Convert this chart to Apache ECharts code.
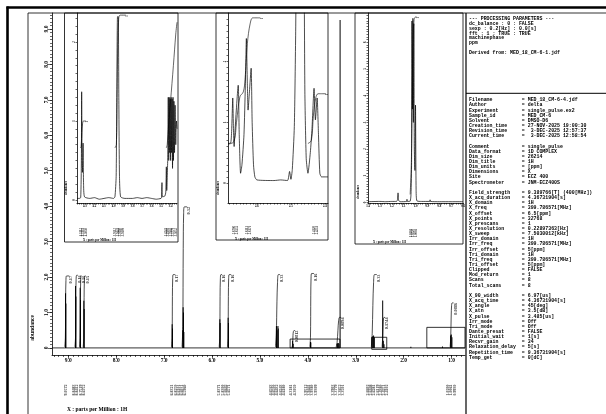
<!DOCTYPE html>
<html><head><meta charset="utf-8">
<script src="https://cdn.jsdelivr.net/npm/echarts@6/dist/echarts.min.js"></script>
<style>html,body{margin:0;padding:0;background:#fff}#c{width:606px;height:414px}</style>
</head><body><div id="c"></div>
<script>
// ---------------- DATA ----------------
const mainXLabels = [9,8,7,6,5,4,3,2,1];
const mainYLabels = [0,1,2,3,4,5,6,7,8,9];
const mainBaseline = [[9.34,0],[0.72,0]];
const mainPeaks = [
 [9.057,1.54],[9.050,1.25],
 [8.848,1.75],[8.841,1.45],[8.752,1.70],[8.745,1.35],[8.675,1.33],[8.668,1.10],
 [6.832,0.67],[6.825,0.55],
 [6.610,0.50],[6.603,1.15],[6.596,1.00],[6.588,0.45],
 [5.837,0.81],[5.830,0.70],[5.664,0.85],[5.657,0.70],
 [4.656,0.62],[4.650,0.60],[4.643,0.50],[4.624,0.62],[4.618,0.55],
 [4.318,0.20],[4.305,0.12],
 [3.944,0.17],[3.938,0.15],
 [3.390,0.12],[3.378,0.13],[3.365,0.14],[3.350,0.12],
 [3.327,9.25],
 [2.660,0.30],[2.645,0.33],[2.628,0.35],[2.612,0.30],
 [2.438,1.34],[2.425,0.20],[2.410,0.10],
 [1.850,0.03],[1.190,0.04],
 [1.020,0.35],[1.006,0.38],[0.993,0.30]
];
const mainIntegralCurves = [
 [[9.074,0.03],[9.061,0.3],[9.055,1.42],[9.049,1.9],[9.037,2.03],[8.98,2.03]],
 [[8.862,0.03],[8.849,0.3],[8.843,1.44],[8.837,1.93],[8.825,2.05],[8.80,2.05]],
 [[8.766,0.03],[8.753,0.3],[8.747,1.43],[8.741,1.92],[8.729,2.04],[8.715,2.04]],
 [[8.689,0.03],[8.676,0.3],[8.670,1.42],[8.664,1.9],[8.652,2.03],[8.635,2.03]],
 [[6.846,0.03],[6.833,0.3],[6.827,1.45],[6.821,1.95],[6.809,2.07],[6.77,2.07]],
 [[6.625,0.03],[6.610,0.6],[6.601,2.8],[6.593,3.75],[6.578,3.98],[6.52,3.98]],
 [[5.851,0.03],[5.838,0.3],[5.832,1.45],[5.826,1.95],[5.814,2.07],[5.79,2.07]],
 [[5.678,0.03],[5.665,0.3],[5.659,1.45],[5.653,1.95],[5.641,2.07],[5.60,2.07]],
 [[4.675,0.03],[4.658,0.4],[4.645,1.3],[4.633,1.85],[4.615,2.07],[4.58,2.07]],
 [[4.330,0.02],[4.318,0.1],[4.310,0.35],[4.302,0.46],[4.290,0.49],[4.27,0.49]],
 [[3.958,0.03],[3.945,0.3],[3.939,1.47],[3.933,1.97],[3.921,2.1],[3.87,2.1]],
 [[3.410,0.02],[3.390,0.15],[3.372,0.5],[3.357,0.78],[3.340,0.86],[3.31,0.86]],
 [[2.675,0.03],[2.657,0.4],[2.643,1.2],[2.628,1.85],[2.608,2.07],[2.56,2.07]],
 [[2.450,0.03],[2.438,0.3],[2.430,0.65],[2.422,0.82],[2.410,0.86],[2.39,0.86]],
 [[1.030,0.03],[1.018,0.3],[1.008,0.9],[1.000,1.2],[0.988,1.27],[0.96,1.27]]
];
const mainIntegralValues = ['0.17','0.16','0.16','0.15','0.17','0.32','0.16','0.16','0.33','0.0812','0.16','0.0894','0.33','0.1744','0.0886'];
const mainZoomBoxes = [[4.37,0,3.33,0.25],[2.666,-0.04,2.353,0.30],[1.517,0,0.72,0.58]];
const mainPeakLabelGroups = [
 [9.0572],
 [8.8483,8.8412,8.7519,8.6752],
 [6.8321,6.8250,6.6101,6.6031,6.5960],
 [5.8371,5.8300,5.6642,5.6571],
 [4.6563,4.6500,4.6432,4.6243,4.6180],
 [4.3181,4.3050],
 [3.9512,3.9441,3.9380,3.9309],
 [3.3903,3.3779,3.3652,3.3501],
 [2.6602,2.6448,2.6281,2.6119,2.4380,2.4251,2.4102],
 [1.0200,1.0061,0.9930]
];

const inset1XLabels = [4.3,4.2,4.1,4.0,3.9,3.8,3.7,3.6,3.5,3.4];
const inset1YLabels = [0,1,2];
const inset1Spectrum = [
 [4.384,0.02],[4.36,0.02],[4.345,0.03],[4.338,0.5],[4.335,1.37],[4.331,0.5],[4.327,0.35],[4.320,0.72],[4.315,0.2],[4.305,0.04],
 [4.25,0.02],[4.2,0.03],[4.15,0.01],[4.1,0.02],[4.05,0.03],[4.0,0.02],
 [3.985,0.04],[3.972,0.3],[3.965,1.4],[3.958,2.32],[3.950,2.32],[3.944,1.3],[3.937,0.3],[3.925,0.04],
 [3.88,0.02],[3.8,0.02],[3.75,0.03],[3.7,0.02],[3.65,0.03],[3.6,0.02],[3.55,0.01],[3.5,0.02],
 [3.495,0.03],[3.49,0.22],[3.485,0.04],[3.46,0.05],[3.45,0.1],[3.444,0.42],[3.44,0.12],
 [3.43,0.5],[3.424,1.3],[3.419,0.5],[3.414,1.3],[3.409,0.6],[3.404,1.28],[3.399,0.5],[3.394,1.3],
 [3.389,0.6],[3.384,1.28],[3.379,0.4],[3.374,1.3],[3.369,0.5],[3.364,1.25],[3.358,0.6],[3.352,1.2],
 [3.345,0.7],[3.338,1.0],[3.332,0.9]
];
const inset1Integrals = [
 [[4.35,0.66],[4.34,0.68],[4.333,0.85],[4.325,0.97],[4.315,1.0],[4.29,1.0]],
 [[3.985,0.66],[3.97,0.7],[3.962,1.3],[3.955,2.0],[3.945,2.3],[3.93,2.34],[3.87,2.34]],
 [[3.445,0.66],[3.435,0.7],[3.42,0.95],[3.40,1.25],[3.37,1.7],[3.345,2.1],[3.332,2.25]]
];
const inset1IntegralValues = ['1','1',''];
const inset1PeakLabelGroups = [[4.3312,4.3181,4.3050],[3.9512,3.9441,3.9380,3.9309],[3.4243,3.4103,3.3903,3.3779,3.3652]];

const inset2XLabels = [2.6,2.5,2.4];
const inset2YLabels = [0,1,2];
const inset2Spectrum = [
 [2.685,0.65],[2.677,0.66],[2.674,0.9],[2.671,1.40],[2.669,0.9],[2.667,0.6],[2.664,0.9],[2.655,1.61],[2.652,0.8],[2.648,0.16],
 [2.644,0.3],[2.638,0.8],[2.634,1.6],[2.631,2.38],[2.628,1.6],[2.626,1.2],[2.622,1.5],[2.617,1.89],[2.614,1.0],[2.61,0.3],
 [2.606,0.1],[2.6,0.05],[2.55,0.04],[2.53,0.05],[2.51,0.04],[2.504,0.19],[2.5,0.06],[2.496,0.22],[2.49,0.93],[2.486,2.5],
 [2.483,4.5],[2.47,10],[2.462,4.5],[2.459,1.5],[2.455,0.4],[2.45,0.16],[2.443,0.5],[2.438,0.9],[2.432,1.56],[2.428,1.04],
 [2.423,1.40],[2.419,0.8],[2.415,0.16],[2.41,0.1],[2.391,0.1]
];
const inset2Integrals = [
 [[2.685,0.64],[2.668,0.68],[2.66,1.0],[2.65,1.42],[2.64,1.5],[2.635,1.7],[2.628,2.3],[2.62,2.62],[2.612,2.72],[2.59,2.72]],
 [[2.45,0.65],[2.44,0.7],[2.434,1.1],[2.427,1.4],[2.42,1.47],[2.397,1.47]]
];
const inset2IntegralValues = ['1','1'];
const inset2PeakLabelGroups = [[2.6706,2.6555],[2.6313,2.6171],[2.4320,2.4231]];

const inset3XLabels = [1.4,1.3,1.2,1.1,1.0,0.9,0.8,0.7,0.6];
const inset3YLabels = [0,1,2,3,4,5,6];
const inset3Spectrum = [
 [1.4,0.03],[1.3,0.04],[1.25,0.03],[1.2,0.04],[1.16,0.04],[1.152,0.1],[1.147,0.36],[1.142,0.08],[1.13,0.03],
 [1.075,0.04],[1.072,0.12],[1.068,0.04],[1.045,0.05],[1.038,0.3],[1.033,1.5],[1.03,6.8],[1.026,3.5],[1.022,6.9],
 [1.018,3.0],[1.014,6.7],[1.01,2.0],[1.005,1.2],[1.0,3.65],[0.995,0.5],[0.988,0.06],[0.95,0.04],[0.88,0.04],
 [0.877,0.1],[0.874,0.04],[0.8,0.03],[0.7,0.03],[0.6,0.03]
];
const inset3Integrals = [[[1.045,0.3],[1.035,1.5],[1.028,4.0],[1.02,6.2],[1.012,6.85],[1.0,6.95],[0.99,6.95]]];
const inset3IntegralValues = ['1'];
const inset3PeakLabelGroups = [[1.0301,1.0220,1.0003]];

const processingLines = ['--- PROCESSING PARAMETERS ---','dc_balance : 0 : FALSE','sexp : 0.2[Hz] : 0.0[s]','fft : 1 : TRUE : TRUE','machinephase','ppm','','Derived from: MED_18_CM-6-1.jdf'];
const paramRows = [
 ['Filename','MED_18_CM-6-4.jdf'],['Author','delta'],['Experiment','single_pulse.ex2'],['Sample_id','MED_CM-6'],
 ['Solvent','DMSO-D6'],['Creation_time','27-NOV-2025 19:00:30'],['Revision_time',' 3-DEC-2025 12:57:37'],['Current_time',' 3-DEC-2025 12:58:54'],
 null,
 ['Comment','single_pulse'],['Data_format','1D COMPLEX'],['Dim_size','26214'],['Dim_title','1H'],['Dim_units','[ppm]'],
 ['Dimensions','X'],['Site','ECZ 400'],['Spectrometer','JNM-ECZ400S'],
 null,
 ['Field_strength','9.389766[T] (400[MHz])'],['X_acq_duration','4.36731904[s]'],['X_domain','1H'],['X_freq','399.786571[MHz]'],
 ['X_offset','6.5[ppm]'],['X_points','32768'],['X_prescans','1'],['X_resolution','0.22897363[Hz]'],['X_sweep','7.5030012[kHz]'],
 ['Irr_domain','1H'],['Irr_freq','399.786571[MHz]'],['Irr_offset','5[ppm]'],['Tri_domain','1H'],['Tri_freq','399.786571[MHz]'],
 ['Tri_offset','5[ppm]'],['Clipped','FALSE'],['Mod_return','1'],['Scans','8'],['Total_scans','8'],
 null,
 ['X_90_width','6.97[us]'],['X_acq_time','4.36731904[s]'],['X_angle','45[deg]'],['X_atn','3.5[dB]'],['X_pulse','3.485[us]'],
 ['Irr_mode','Off'],['Tri_mode','Off'],['Dante_presat','FALSE'],['Initial_wait','1[s]'],['Recvr_gain','34'],
 ['Relaxation_delay','5[s]'],['Repetition_time','9.36731904[s]'],['Temp_get','0[dC]']
];

// ---------------- LAYOUT ----------------
const BLACK = '#000';
const SERIF = '"Liberation Serif","DejaVu Serif",serif';
const MONO = '"Liberation Mono","DejaVu Sans Mono",monospace';
const G = {
  main:{left:52,top:13,width:413,height:342,x:[0.72,9.34],y:[-0.2,9.45]},
  in1:{left:77,top:13,width:100,height:190,x:[3.332,4.384],y:[-0.038,2.367]},
  in2:{left:228,top:13,width:100,height:190,x:[2.391,2.685],y:[-0.33,2.80]},
  in3:{left:368,top:13,width:95,height:190,x:[0.6,1.4],y:[-0.019,7.1]}
};
function steps(a,b,s){const o=[];const n0=Math.ceil(a/s-1e-9),n1=Math.floor(b/s+1e-9);for(let k=n0;k<=n1;k++)o.push(+(k*s).toFixed(6));return o;}
function yAt(g,px){return g.y[1]-(px-g.top)/g.height*(g.y[1]-g.y[0]);}
function pxPerX(g){return g.width/(g.x[1]-g.x[0]);}
const grids=[G.main,G.in1,G.in2,G.in3].map(g=>({left:g.left,top:g.top,width:g.width,height:g.height,outerBoundsMode:'none'}));

function xAx(gi,g,o){
  return {type:'value',gridIndex:gi,position:'bottom',inverse:true,min:g.x[0],max:g.x[1],offset:0,
    axisLine:{show:o.line!==false,onZero:false,lineStyle:{color:BLACK,width:0.8}},
    axisTick:{show:true,customValues:o.ticks,length:o.tl,lineStyle:{color:BLACK,width:0.6}},
    axisLabel:o.labels?{show:true,customValues:o.labels,formatter:o.fmt,fontSize:o.fs,fontWeight:'bold',fontFamily:SERIF,color:BLACK,margin:o.margin}:{show:false},
    splitLine:{show:false}};
}
function yAx(gi,g,o){
  return {type:'value',gridIndex:gi,position:'left',min:g.y[0],max:g.y[1],offset:0,
    axisLine:{show:o.line!==false,onZero:false,lineStyle:{color:BLACK,width:0.8}},
    axisTick:{show:true,customValues:o.ticks,length:o.tl,lineStyle:{color:BLACK,width:0.6}},
    axisLabel:o.labels?{show:true,customValues:o.labels,formatter:o.fmt,rotate:90,fontSize:o.fs,fontWeight:'bold',fontFamily:SERIF,color:BLACK,margin:o.margin}:{show:false},
    splitLine:{show:false}};
}
const f1 = v=>Number(v).toFixed(1);
const xAxes=[
  xAx(0,G.main,{ticks:mainXLabels,tl:4,labels:mainXLabels,fmt:f1,fs:5.5,margin:3}),
  xAx(0,G.main,{ticks:steps(0.8,9.3,0.1),tl:2,line:false}),
  xAx(1,G.in1,{ticks:steps(3.34,4.38,0.02),tl:1.5,labels:inset1XLabels,fmt:f1,fs:3,margin:2}),
  xAx(2,G.in2,{ticks:steps(2.40,2.68,0.01),tl:1.5,labels:inset2XLabels,fmt:f1,fs:3,margin:2}),
  xAx(3,G.in3,{ticks:steps(0.6,1.4,0.02),tl:1.5,labels:inset3XLabels,fmt:f1,fs:3,margin:2})
];
const yAxes=[
  yAx(0,G.main,{ticks:mainYLabels,tl:4,labels:mainYLabels,fmt:v=>v===0?'0':f1(v),fs:5.5,margin:2}),
  yAx(0,G.main,{ticks:steps(0,9.4,0.1),tl:2,line:false}),
  yAx(1,G.in1,{ticks:steps(0,2.3,0.1),tl:1.5,labels:inset1YLabels,fmt:v=>String(v),fs:3,margin:1.5}),
  yAx(2,G.in2,{ticks:steps(0,2.7,0.1),tl:1.5,labels:inset2YLabels,fmt:v=>String(v),fs:3,margin:1.5}),
  yAx(3,G.in3,{ticks:steps(0,7.0,0.1),tl:1.5,labels:inset3YLabels,fmt:v=>String(v),fs:3,margin:1.5})
];

const series=[];
function lineS(ai,data,w,smooth){return {type:'line',xAxisIndex:ai,yAxisIndex:ai,data:data,symbol:'none',smooth:smooth||false,lineStyle:{color:BLACK,width:w},silent:true,animation:false};}
function intLabels(ai,curves,texts,fs){
  const data=[];curves.forEach((c,i)=>{if(texts[i])data.push({value:c[c.length-1],name:texts[i]});});
  return {type:'scatter',xAxisIndex:ai,yAxisIndex:ai,data:data,symbolSize:0.01,clip:false,silent:true,animation:false,itemStyle:{color:'rgba(0,0,0,0)'},
    label:{show:true,position:'inside',rotate:90,align:'right',verticalAlign:'top',formatter:p=>p.name,fontSize:fs,fontWeight:'bold',fontFamily:SERIF,color:BLACK}};
}
function peakLabels(ai,g,groups,yPx,spacing,fs){
  const k=pxPerX(g),yv=yAt(g,yPx),data=[];
  groups.forEach(gr=>{const c=gr.reduce((a,b)=>a+b,0)/gr.length;gr.forEach((v,i)=>{const dx=(i-(gr.length-1)/2)*spacing;data.push({value:[c-dx/k,yv],name:v.toFixed(4)});});});
  return {type:'scatter',xAxisIndex:ai,yAxisIndex:ai,data:data,symbolSize:0.01,clip:false,silent:true,animation:false,itemStyle:{color:'rgba(0,0,0,0)'},
    label:{show:true,position:'inside',rotate:90,align:'center',verticalAlign:'middle',formatter:p=>p.name,fontSize:fs,fontWeight:'bold',fontFamily:SERIF,color:BLACK}};
}
// main
const base=lineS(0,mainBaseline,0.8);
base.markArea={silent:true,itemStyle:{color:'rgba(0,0,0,0)',borderColor:BLACK,borderWidth:0.8},data:mainZoomBoxes.map(b=>[{coord:[b[0],b[1]]},{coord:[b[2],b[3]]}])};
series.push(base);
series.push({type:'bar',xAxisIndex:0,yAxisIndex:0,data:mainPeaks,barWidth:1,itemStyle:{color:BLACK},silent:true,animation:false});
mainIntegralCurves.forEach(c=>series.push(lineS(0,c,0.7,0.35)));
series.push(intLabels(0,mainIntegralCurves,mainIntegralValues,4.3));
series.push(peakLabels(0,G.main,mainPeakLabelGroups,390,3.3,4));
// insets
[[1,G.in1,inset1Spectrum,inset1Integrals,inset1IntegralValues,inset1PeakLabelGroups,232,2.5],
 [2,G.in2,inset2Spectrum,inset2Integrals,inset2IntegralValues,inset2PeakLabelGroups,230,3],
 [3,G.in3,inset3Spectrum,inset3Integrals,inset3IntegralValues,inset3PeakLabelGroups,233,2.5]].forEach(a=>{
  const [ai,g,spec,ints,vals,groups,ly,sp]=a;
  series.push(lineS(ai+1,spec,0.7,0.2));
  ints.forEach(c=>series.push(lineS(ai+1,c,0.6,0.35)));
  series.push(intLabels(ai+1,ints,vals,3));
  series.push(peakLabels(ai+1,g,groups,ly,sp,3));
});
// fix axis indices: inset axes are index 2,3,4
series.forEach(s=>{});

// ---------------- GRAPHICS (frames & text) ----------------
function ln(x1,y1,x2,y2,w){return {type:'line',silent:true,shape:{x1,y1,x2,y2},style:{stroke:BLACK,lineWidth:w}};}
function rc(x,y,w,h){return {type:'rect',silent:true,shape:{x,y,width:w,height:h},style:{fill:'none',stroke:BLACK,lineWidth:0.8}};}
function tx(x,y,text,font,rot,align,valign,lh){return {type:'text',silent:true,x,y,rotation:rot||0,style:{text,font,fill:BLACK,align:align||'left',verticalAlign:valign||'top',textAlign:align||'left',textVerticalAlign:valign||'top',lineHeight:lh}};}
const paramText=paramRows.map(r=>r?(r[0].padEnd(18,' ')+'= '+r[1]):'').join('\n');
const graphics=[
  ln(6.5,7.5,606,7.5,2.6), ln(7.5,6.5,7.5,414,2.6),
  ln(28,13,606,13,0.8), ln(28,13,28,414,0.8),
  ln(466,13,466,414,1.2), ln(466,93.3,606,93.3,1),
  rc(64.5,13,113.5,229), rc(216,13,112,227), rc(355,13,108,231),
  tx(469,16.6,processingLines.join('\n'),'bold 4.9px '+MONO,0,'left','top',4.8),
  tx(469,97.4,paramText,'bold 4.9px '+MONO,0,'left','top',5.15),
  tx(33,328,'abundance','bold 5.5px '+SERIF,Math.PI/2,'center','middle'),
  tx(67,410,'X : parts per Million : 1H','bold 5.5px '+SERIF,0,'left','middle'),
  tx(83,240,'X : parts per Million : 1H','bold 3px '+SERIF,0,'left','middle'),
  tx(235,239,'X : parts per Million : 1H','bold 3px '+SERIF,0,'left','middle'),
  tx(373,242,'X : parts per Million : 1H','bold 3px '+SERIF,0,'left','middle'),
  tx(66,188,'abundance','bold 3px '+SERIF,Math.PI/2,'center','middle'),
  tx(218,188,'abundance','bold 3px '+SERIF,Math.PI/2,'center','middle'),
  tx(358,192,'abundance','bold 3px '+SERIF,Math.PI/2,'center','middle')
];

const chart=echarts.init(document.getElementById('c'),null,{renderer:'canvas'});
chart.setOption({
  animation:false,backgroundColor:'#fff',
  grid:grids,xAxis:xAxes,yAxis:yAxes,series:series,graphic:{elements:graphics}
});
</script></body></html>
